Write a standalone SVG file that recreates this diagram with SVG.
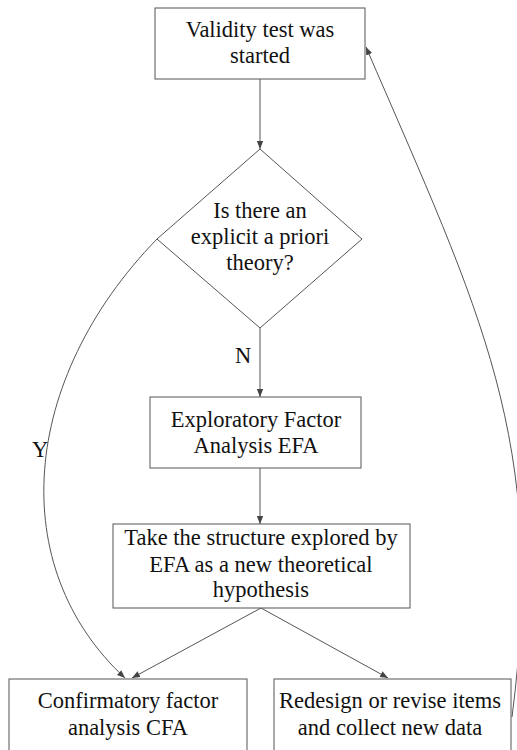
<svg xmlns="http://www.w3.org/2000/svg" width="517" height="750" viewBox="0 0 517 750">
  <style>
    .node { fill: #ffffff; stroke: #555555; stroke-width: 1; }
    .lbl { font-family: "Liberation Serif", "Times New Roman", serif; font-size: 22.5px; fill: #111111; text-anchor: middle; }
    .edge { fill: none; stroke: #555555; stroke-width: 1; }
  </style>
  <defs>
    <marker id="arrow" viewBox="0 0 10 10" refX="10" refY="5" markerWidth="8" markerHeight="8" markerUnits="userSpaceOnUse" orient="auto">
      <path d="M0,1 L10,5 L0,9 Z" fill="#444444"/>
    </marker>
  </defs>
  <rect width="517" height="750" fill="#ffffff"/>

  <g id="connectors">
    <line class="edge" x1="260" y1="79" x2="260" y2="149" marker-end="url(#arrow)"/>
    <line class="edge" x1="260" y1="328" x2="260" y2="397" marker-end="url(#arrow)"/>
    <line class="edge" x1="260" y1="468" x2="260" y2="524" marker-end="url(#arrow)"/>
    <line class="edge" x1="261" y1="608" x2="132" y2="678" marker-end="url(#arrow)"/>
    <line class="edge" x1="261" y1="608" x2="388" y2="678" marker-end="url(#arrow)"/>
    <path class="edge" d="M157,239 C20,380 5,567 125,678" marker-end="url(#arrow)"/>
    <path class="edge" d="M512,717 C548,440 481,314 366,47" marker-end="url(#arrow)"/>
    <text class="lbl" x="243" y="363">N</text>
    <text class="lbl" x="40" y="457">Y</text>
  </g>

  <g id="start">
    <rect class="node" x="155" y="8" width="210" height="71"/>
    <text class="lbl" x="260" y="37">Validity test was</text>
    <text class="lbl" x="260" y="63">started</text>
  </g>

  <g id="decision">
    <polygon class="node" points="260,149 362,239 260,328 157,239"/>
    <text class="lbl" x="260" y="218">Is there an</text>
    <text class="lbl" x="260" y="244">explicit a priori</text>
    <text class="lbl" x="260" y="270">theory?</text>
  </g>

  <g id="efa">
    <rect class="node" x="150" y="397" width="211" height="71"/>
    <text class="lbl" x="256" y="427">Exploratory Factor</text>
    <text class="lbl" x="256" y="453">Analysis EFA</text>
  </g>

  <g id="hypothesis">
    <rect class="node" x="113" y="524" width="297" height="84"/>
    <text class="lbl" x="261" y="545">Take the structure explored by</text>
    <text class="lbl" x="261" y="572">EFA as a new theoretical</text>
    <text class="lbl" x="261" y="597">hypothesis</text>
  </g>

  <g id="cfa">
    <rect class="node" x="9" y="679" width="238" height="90"/>
    <text class="lbl" x="128" y="708">Confirmatory factor</text>
    <text class="lbl" x="128" y="735">analysis CFA</text>
  </g>

  <g id="redesign">
    <rect class="node" x="274" y="679" width="237" height="90"/>
    <text class="lbl" x="390" y="708">Redesign or revise items</text>
    <text class="lbl" x="390" y="735">and collect new data</text>
  </g>
</svg>
